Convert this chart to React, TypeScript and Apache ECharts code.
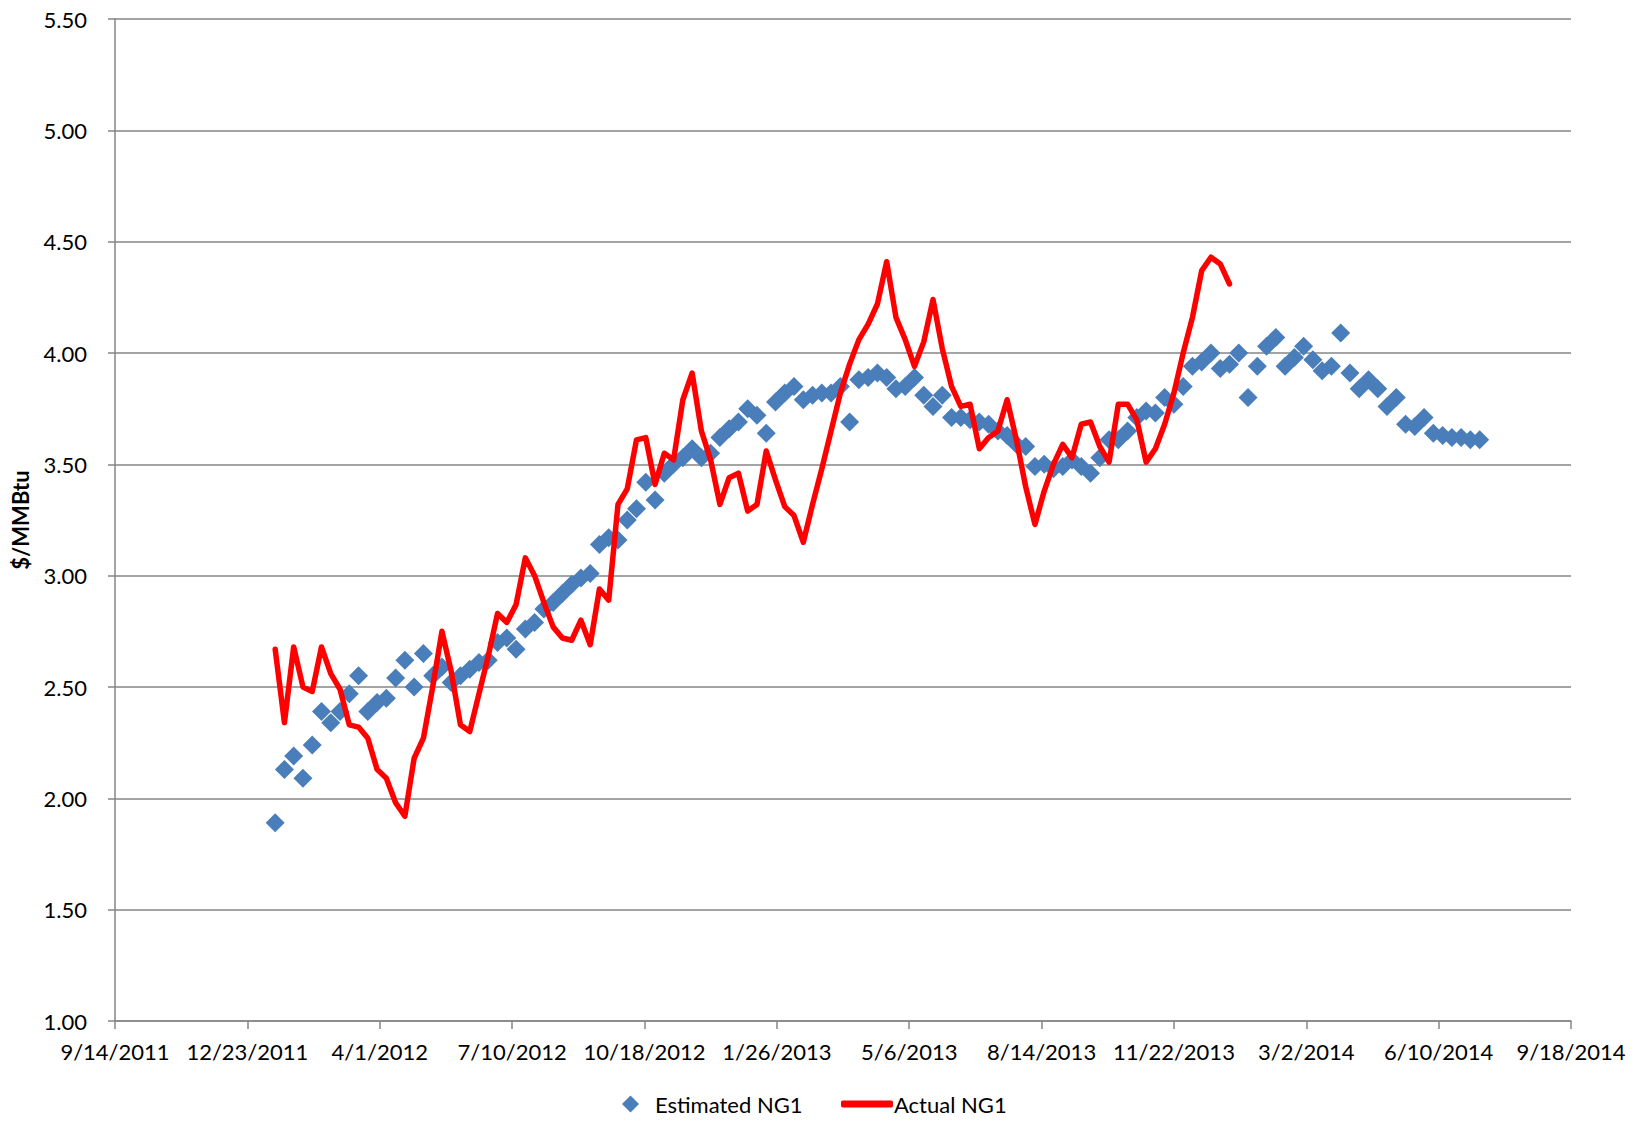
import React, { useEffect, useRef } from "react";
import * as echarts from "echarts";

// Weekly observations, first one on Excel serial date 40921 (1/13/2012)
const START_SERIAL = 40921;
const WEEK_DAYS = 7;

// Axis settings (Excel serial dates on x)
const X_MIN = 40800; // 9/14/2011
const X_MAX = 41900; // 9/18/2014
const X_STEP = 100;
const Y_MIN = 1;
const Y_MAX = 5.5;
const Y_STEP = 0.5;

const estimatedNG1 = [
  1.89, 2.13, 2.19, 2.09, 2.24, 2.39, 2.34, 2.39, 2.47, 2.55,
  2.39, 2.43, 2.45, 2.54, 2.62, 2.50, 2.65, 2.55, 2.59, 2.52,
  2.55, 2.58, 2.61, 2.62, 2.70, 2.72, 2.67, 2.76, 2.79, 2.85,
  2.88, 2.92, 2.96, 2.99, 3.01, 3.14, 3.17, 3.16, 3.25, 3.30,
  3.42, 3.34, 3.46, 3.50, 3.53, 3.57, 3.53, 3.55, 3.62, 3.66,
  3.69, 3.75, 3.72, 3.64, 3.78, 3.82, 3.85, 3.79, 3.81, 3.82,
  3.82, 3.85, 3.69, 3.88, 3.89, 3.91, 3.89, 3.84, 3.85, 3.89,
  3.81, 3.76, 3.81, 3.71, 3.71, 3.70, 3.69, 3.68, 3.65, 3.63,
  3.59, 3.58, 3.49, 3.50, 3.48, 3.49, 3.52, 3.49, 3.46, 3.53,
  3.61, 3.61, 3.65, 3.71, 3.74, 3.73, 3.80, 3.77, 3.85, 3.94,
  3.96, 4.00, 3.93, 3.95, 4.00, 3.80, 3.94, 4.03, 4.07, 3.94,
  3.98, 4.03, 3.97, 3.92, 3.94, 4.09, 3.91, 3.84, 3.88, 3.84,
  3.76, 3.80, 3.68, 3.67, 3.71, 3.64, 3.63, 3.62, 3.62, 3.61,
  3.61,
];

const actualNG1 = [
  2.67, 2.34, 2.68, 2.50, 2.48, 2.68, 2.56, 2.49, 2.33, 2.32,
  2.27, 2.13, 2.09, 1.98, 1.92, 2.18, 2.27, 2.50, 2.75, 2.57,
  2.33, 2.30, 2.47, 2.64, 2.83, 2.79, 2.87, 3.08, 3.00, 2.88,
  2.77, 2.72, 2.71, 2.80, 2.69, 2.94, 2.89, 3.32, 3.39, 3.61,
  3.62, 3.41, 3.55, 3.52, 3.79, 3.91, 3.65, 3.52, 3.32, 3.44,
  3.46, 3.29, 3.32, 3.56, 3.43, 3.31, 3.27, 3.15, 3.32, 3.48,
  3.65, 3.82, 3.95, 4.06, 4.13, 4.22, 4.41, 4.16, 4.06, 3.94,
  4.05, 4.24, 4.02, 3.85, 3.76, 3.77, 3.57, 3.62, 3.65, 3.79,
  3.61, 3.40, 3.23, 3.38, 3.50, 3.59, 3.53, 3.68, 3.69, 3.58,
  3.51, 3.77, 3.77, 3.70, 3.51, 3.57, 3.68, 3.82, 4.00, 4.16,
  4.37, 4.43, 4.40, 4.31,
];

const SERIES_NAMES = ["Estimated NG1", "Actual NG1"];
const Y_TITLE = "$/MMBtu";

const FONT = "Lato, 'Open Sans', sans-serif";
const GRID_COLOR = "#868686";

const toPoints = (vals: number[]) =>
  vals.map((v, i) => [START_SERIAL + i * WEEK_DAYS, v]);

const serialToLabel = (serial: number) => {
  const d = new Date(Date.UTC(1899, 11, 30) + Math.round(serial) * 86400000);
  return `${d.getUTCMonth() + 1}/${d.getUTCDate()}/${d.getUTCFullYear()}`;
};

export default function App() {
  const ref = useRef<HTMLDivElement>(null);

  useEffect(() => {
    if (!ref.current) return;
    const chart = echarts.init(ref.current, undefined, { renderer: "svg" });
    chart.setOption({
      animation: false,
      backgroundColor: "#ffffff",
      textStyle: { fontFamily: FONT },
      grid: { left: 115, right: 71, top: 19, bottom: 113, containLabel: false },
      xAxis: {
        type: "value",
        min: X_MIN,
        max: X_MAX,
        interval: X_STEP,
        axisLine: { show: true, lineStyle: { color: GRID_COLOR, width: 1.5 } },
        axisTick: { show: true, length: 8, lineStyle: { color: GRID_COLOR, width: 1.5 } },
        splitLine: { show: false },
        axisLabel: {
          formatter: (v: number) => serialToLabel(v),
          fontSize: 22,
          color: "#000000",
          fontFamily: FONT,
          margin: 19,
        },
      },
      yAxis: {
        type: "value",
        min: Y_MIN,
        max: Y_MAX,
        interval: Y_STEP,
        name: Y_TITLE,
        nameLocation: "middle",
        nameRotate: 90,
        nameGap: 84,
        nameTextStyle: {
          fontSize: 22,
          fontWeight: "bold",
          color: "#000000",
          fontFamily: FONT,
        },
        axisLine: { show: true, lineStyle: { color: GRID_COLOR, width: 1.5 } },
        axisTick: { show: true, length: 7, lineStyle: { color: GRID_COLOR, width: 1.5 } },
        splitLine: { show: true, lineStyle: { color: GRID_COLOR, width: 1.5 } },
        axisLabel: {
          formatter: (v: number) => v.toFixed(2),
          fontSize: 22,
          color: "#000000",
          fontFamily: FONT,
          margin: 28,
        },
      },
      legend: [
        {
          data: [SERIES_NAMES[0]],
          left: 617,
          top: 1088,
          icon: "diamond",
          itemWidth: 17,
          itemHeight: 17,
          itemStyle: { opacity: 1 },
          textStyle: {
            fontSize: 22,
            color: "#000000",
            fontFamily: FONT,
            padding: [0, 0, 0, 11],
          },
        },
        {
          data: [SERIES_NAMES[1]],
          left: 836,
          top: 1088,
          icon: "roundRect",
          itemWidth: 52,
          itemHeight: 7,
          textStyle: {
            fontSize: 22,
            color: "#000000",
            fontFamily: FONT,
            padding: [0, 0, 0, -4],
          },
        },
      ],
      series: [
        {
          name: SERIES_NAMES[0],
          type: "scatter",
          symbol: "diamond",
          symbolSize: 19,
          itemStyle: { color: "#4A7EBB", opacity: 1 },
          data: toPoints(estimatedNG1),
          z: 2,
        },
        {
          name: SERIES_NAMES[1],
          type: "line",
          showSymbol: false,
          symbol: "none",
          lineStyle: { color: "#FF0000", width: 5.5, join: "round", cap: "round" },
          itemStyle: { color: "#FF0000" },
          data: toPoints(actualNG1),
          z: 3,
        },
      ],
    });
    return () => chart.dispose();
  }, []);

  return (
    <div
      ref={ref}
      style={{
        position: "fixed",
        left: 0,
        top: 0,
        width: 1642,
        height: 1134,
        background: "#ffffff",
      }}
    />
  );
}
